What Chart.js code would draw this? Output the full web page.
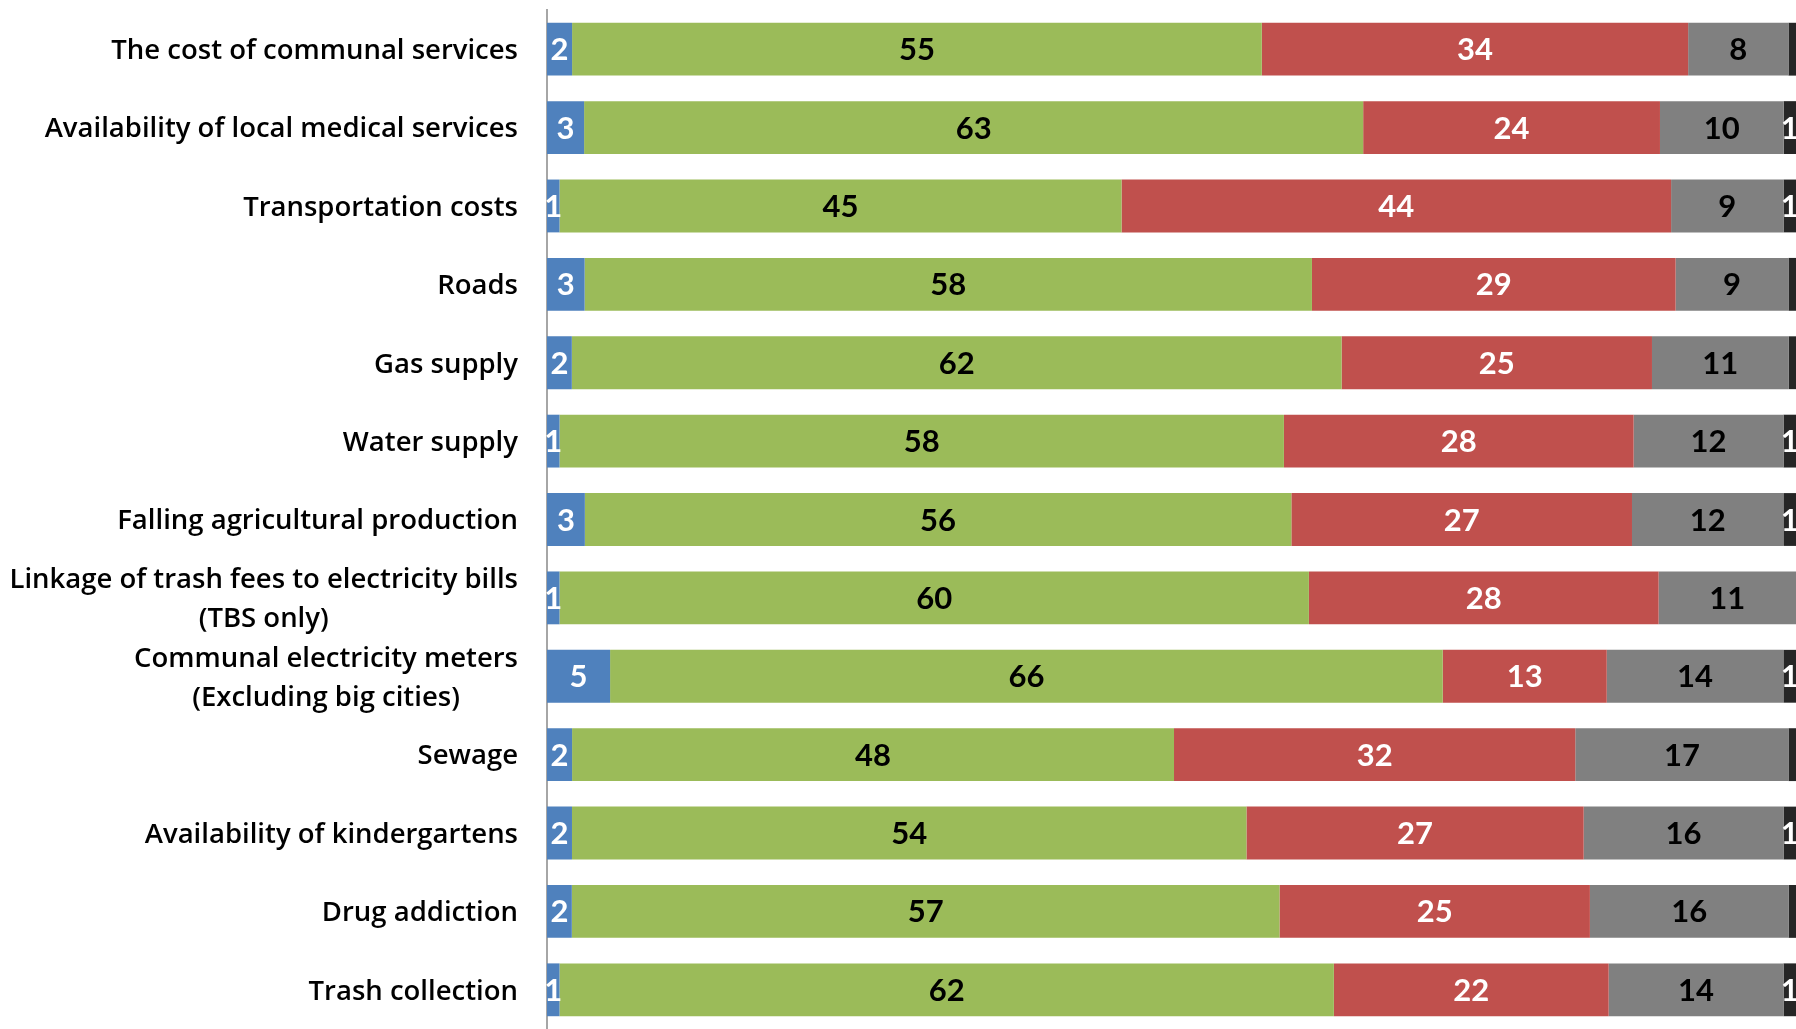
<!DOCTYPE html>
<html lang="en">
<head>
  <meta charset="utf-8">
  <title>Local problems</title>
  <script src="https://cdn.jsdelivr.net/npm/chart.js"></script>
  <style>
    html, body { margin: 0; padding: 0; background: #fff; }
    #wrap { width: 1796px; height: 1029px; }
  </style>
</head>
<body>
  <div id="wrap"><canvas id="chart"></canvas></div>

  <script>
    // categories (multi-line ones as arrays)
    const categories = [
      'The cost of communal services',
      'Availability of local medical services',
      'Transportation costs',
      'Roads',
      'Gas supply',
      'Water supply',
      'Falling agricultural production',
      ['Linkage of trash fees to electricity bills', '(TBS only)'],
      ['Communal electricity meters', '(Excluding big cities)'],
      'Sewage',
      'Availability of kindergartens',
      'Drug addiction',
      'Trash collection'
    ];

    // series values (%)
    const blueValues  = [2, 3, 1, 3, 2, 1, 3, 1, 5, 2, 2, 2, 1];
    const greenValues = [55, 63, 45, 58, 62, 58, 56, 60, 66, 48, 54, 57, 62];
    const redValues   = [34, 24, 44, 29, 25, 28, 27, 28, 13, 32, 27, 25, 22];
    const grayValues  = [8, 10, 9, 9, 11, 12, 12, 11, 14, 17, 16, 16, 14];
    const darkValues  = [0.6, 1, 1, 0.6, 0.6, 1, 1, 0, 1, 0.6, 1, 0.6, 1];

    const seriesList = [
      { values: blueValues,  color: '#4F81BD', text: '#FFFFFF' },
      { values: greenValues, color: '#9BBB59', text: '#000000' },
      { values: redValues,   color: '#C0504D', text: '#FFFFFF' },
      { values: grayValues,  color: '#808080', text: '#000000' },
      { values: darkValues,  color: '#262626', text: '#FFFFFF' }
    ];

    // each row drawn as 100% stacked
    const rowTotals = categories.map((c, i) =>
      seriesList.reduce((s, ser) => s + ser.values[i], 0));

    const datasets = seriesList.map(ser => ({
      data: ser.values.map((v, i) => v / rowTotals[i] * 100),
      rawValues: ser.values,
      textColor: ser.text,
      backgroundColor: ser.color,
      borderWidth: 0,
      categoryPercentage: 1,
      barPercentage: 0.674
    }));

    const AXIS_LEFT = 547;
    const LABEL_RIGHT = 518;

    // draws the category names (multi-line blocks centered, right aligned)
    const categoryLabels = {
      id: 'categoryLabels',
      afterDraw(chart) {
        const ctx = chart.ctx;
        const yScale = chart.scales.y;
        ctx.save();
        ctx.font = '600 27.5px "Open Sans"';
        ctx.fillStyle = '#000';
        ctx.textAlign = 'center';
        ctx.textBaseline = 'middle';
        const lineH = 39;
        categories.forEach((cat, i) => {
          const lines = Array.isArray(cat) ? cat : [cat];
          const maxW = Math.max(...lines.map(l => ctx.measureText(l).width));
          const cx = LABEL_RIGHT - maxW / 2;
          const cy = yScale.getPixelForValue(i) + 2;
          lines.forEach((l, k) => {
            ctx.fillText(l, cx, cy + (k - (lines.length - 1) / 2) * lineH);
          });
        });
        ctx.restore();
      }
    };

    // value labels centered in each segment
    const valueLabels = {
      id: 'valueLabels',
      afterDatasetsDraw(chart) {
        const ctx = chart.ctx;
        ctx.save();
        ctx.font = 'bold 31px Lato';
        ctx.textAlign = 'center';
        ctx.textBaseline = 'middle';
        chart.data.datasets.forEach((ds, d) => {
          chart.getDatasetMeta(d).data.forEach((bar, i) => {
            const v = ds.rawValues[i];
            if (v < 1) return;
            const p = bar.getProps(['x', 'y', 'base'], true);
            ctx.fillStyle = ds.textColor;
            ctx.fillText(String(v), (p.x + p.base) / 2, p.y + 1);
          });
        });
        ctx.restore();
      }
    };

    new Chart(document.getElementById('chart'), {
      type: 'bar',
      data: { labels: categories, datasets: datasets },
      options: {
        indexAxis: 'y',
        responsive: true,
        maintainAspectRatio: false,
        animation: false,
        layout: { padding: { top: 10, right: 0, bottom: 0, left: 0 } },
        plugins: {
          legend: { display: false },
          tooltip: { enabled: false }
        },
        scales: {
          x: {
            stacked: true,
            min: 0,
            max: 100,
            display: false
          },
          y: {
            stacked: true,
            grid: { display: false },
            border: { display: true, color: '#A6A6A6', width: 2 },
            ticks: { display: false },
            afterFit(scale) { scale.width = AXIS_LEFT; }
          }
        }
      },
      plugins: [categoryLabels, valueLabels]
    });
  </script>
</body>
</html>
